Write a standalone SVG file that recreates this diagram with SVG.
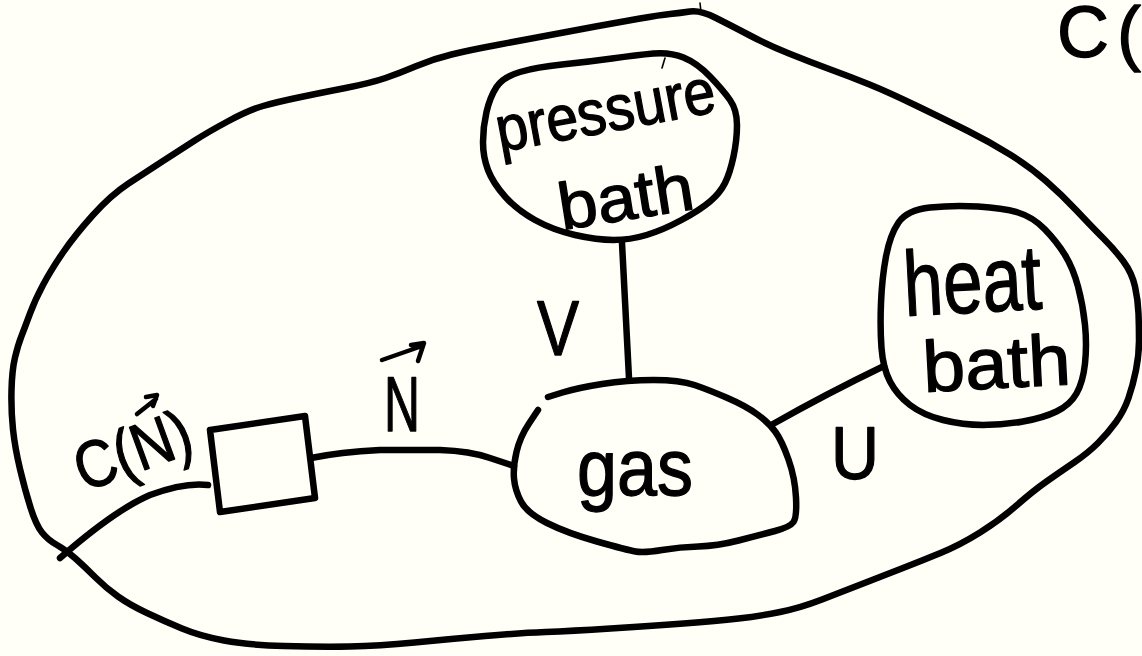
<svg xmlns="http://www.w3.org/2000/svg" width="1142" height="656" viewBox="0 0 1142 656">
  <style>
    .ink { fill: none; stroke: #000; stroke-width: 6.5; stroke-linecap: round; stroke-linejoin: round; }
    .pen { fill: none; stroke: #000; stroke-width: 4.5; stroke-linecap: round; stroke-linejoin: round; }
    .hair { fill: none; stroke: #000; stroke-width: 1.6; stroke-linecap: round; }
    .hand { font-family: "Liberation Sans", Arial, sans-serif; fill: #000; stroke: #000; stroke-width: 1.3; stroke-linejoin: round; }
  </style>
  <rect width="1142" height="656" fill="#fffef7"/>

  <!-- enclosing system boundary -->
  <g id="system">
    <path class="ink" d="M670,14 Q680,13 690,11.5 Q700,10 715,17.5 Q730,25 749,35 Q768,45 789,53.5 Q810,62 830.5,69.5 Q851,77 869.5,84.5 Q888,92 917,106 Q946,120 968,131 Q990,142 1010,154.5 Q1030,167 1046,181 Q1062,195 1077,211 Q1092,227 1103.5,238.5 Q1115,250 1123.5,261.5 Q1132,273 1135,286.5 Q1138,300 1138.5,313.5 Q1139,327 1139,341 Q1139,355 1136,370 Q1133,385 1128.5,398 Q1124,411 1116,422 Q1108,433 1098,443 Q1088,453 1074,462.5 Q1060,472 1046.5,481.5 Q1033,491 1016.5,505.5 Q1000,520 980,532.5 Q960,545 940.5,553 Q921,561 903,568 Q885,575 864.5,583 Q844,591 822,599.5 Q800,608 780,612 Q760,616 738.5,618.5 Q717,621 683.5,623.5 Q650,626 610.5,628.5 Q571,631 545.5,632 Q520,633 485,636 Q450,639 414.5,642.5 Q379,646 349.5,646.5 Q320,647 284,646 Q248,645 224,640.5 Q200,636 182,628.5 Q164,621 147,613 Q130,605 118,596.5 Q106,588 95.5,577.5 Q85,567 75.5,558.5 Q66,550 57,545 Q48,540 42,532.5 Q36,525 30.5,507.5 Q25,490 20,469 Q15,448 13,429.5 Q11,411 11.5,390.5 Q12,370 15,357.5 Q18,345 21.5,336 Q25,327 30,313.5 Q35,300 43,285 Q51,270 63,252.5 Q75,235 93,215 Q111,195 128.5,183.5 Q146,172 163,161 Q180,150 194,141 Q208,132 228.5,121 Q249,110 263,106 Q277,102 298.5,97.5 Q320,93 345.5,88 Q371,83 385.5,78 Q400,73 416.5,66 Q433,59 451.5,54.5 Q470,50 497,45 Q524,40 547.5,35.5 Q571,31 595.5,26.5 Q620,22 640,18.5 Q660,15 670,14 Z"/>
    <line class="hair" x1="700" y1="3" x2="701" y2="12"/>
    <text class="hand" x="1057" y="57" font-size="72" textLength="84" lengthAdjust="spacing">C(</text>
  </g>

  <!-- connectors -->
  <g id="connectors">
    <path class="ink" d="M622,243 Q625,300 629,378"/>
    <path class="ink" d="M773,424 Q826,394 884,366"/>
    <path class="ink" d="M311,458 Q340,452 380,450 L440,450 Q470,451 490,458 L514,466"/>
    <path class="ink" d="M208,485 Q185,482 150,495 Q115,510 60,558"/>
  </g>

  <!-- node: pressure bath -->
  <g id="pressure-bath">
    <path class="ink" d="M496.5,87 Q503,77 520,72 Q537,67 562,64.5 Q587,62 612,58.5 Q637,55 653.5,53.5 Q670,52 683.5,57.5 Q697,63 710,76.5 Q723,90 730,100 Q737,110 737,125 Q737,140 733.5,156.5 Q730,173 725,183 Q720,193 710,201.5 Q700,210 681.5,220 Q663,230 646.5,235 Q630,240 613.5,240 Q597,240 575,235 Q553,230 535,220 Q517,210 505,196.5 Q493,183 488,170 Q483,157 483,142 Q483,127 486.5,112 Q490,97 496.5,87 Z"/>
    <line class="hair" x1="665" y1="58" x2="662" y2="68"/>
    <text class="hand" x="500" y="152" font-size="64" textLength="222" lengthAdjust="spacingAndGlyphs" transform="rotate(-10.5 500 152)">pressure</text>
    <text class="hand" x="562" y="230" font-size="66" textLength="136" lengthAdjust="spacingAndGlyphs" transform="rotate(-9 562 230)">bath</text>
  </g>

  <!-- node: heat bath -->
  <g id="heat-bath">
    <path class="ink" d="M898.5,222.5 Q907,210 930,207.5 Q953,205 978,206.5 Q1003,208 1018,212.5 Q1033,217 1045,229.5 Q1057,242 1065,255 Q1073,268 1078,286.5 Q1083,305 1085,325 Q1087,345 1085,363.5 Q1083,382 1076.5,393.5 Q1070,405 1056.5,411.5 Q1043,418 1023,421.5 Q1003,425 983,425 Q963,425 943,420 Q923,415 910,405 Q897,395 890,381.5 Q883,368 881.5,348 Q880,328 881,303 Q882,278 886,256.5 Q890,235 898.5,222.5 Z"/>
    <text class="hand" x="905" y="316" font-size="92" textLength="138" lengthAdjust="spacingAndGlyphs" transform="rotate(-3 905 316)">heat</text>
    <text class="hand" x="924" y="392" font-size="72" textLength="148" lengthAdjust="spacingAndGlyphs" transform="rotate(-3 924 392)">bath</text>
  </g>

  <!-- node: gas (outline left slightly open at the upper left) -->
  <g id="gas">
    <path class="ink" d="M548,397 L562.5,392.5 Q577,388 602,384 Q627,380 653.5,380 Q680,380 694.5,385 Q709,390 727.5,398 Q746,406 757.5,414.5 Q769,423 775.5,432 Q782,441 788.5,459.5 Q795,478 796,497.5 Q797,517 793.5,522 Q790,527 775,531 Q760,535 738.5,540.5 Q717,546 698.5,546.5 Q680,547 662,550 Q644,553 635.5,551.5 Q627,550 597,541.5 Q567,533 547,523 Q527,513 521,501.5 Q515,490 514,478.5 Q513,467 516.5,452 Q520,437 529,423.5 L538,410"/>
    <text class="hand" x="577" y="495" font-size="80" textLength="116" lengthAdjust="spacingAndGlyphs">gas</text>
  </g>

  <!-- node: constraint box -->
  <g id="constraint">
    <polygon class="ink" points="210,430 305,416 315,498 220,512"/>
  </g>

  <!-- connector labels; vector arrows are pen strokes over the N -->
  <g id="labels">
    <text class="hand" x="537" y="355" font-size="78" textLength="42" lengthAdjust="spacingAndGlyphs">V</text>
    <text class="hand" x="831" y="479" font-size="74" textLength="48" lengthAdjust="spacingAndGlyphs">U</text>
    <text class="hand" x="384" y="431" font-size="78" textLength="36" lengthAdjust="spacingAndGlyphs">N</text>
    <path class="pen" d="M382,360 L422,346 M411,345 L424,343 L418,361"/>
    <g transform="translate(84 492) rotate(-20)">
      <text class="hand" x="0" y="0" font-size="66" textLength="120" lengthAdjust="spacingAndGlyphs">C(N)</text>
    </g>
    <path class="pen" d="M137,414 L156,399 M146,397 L157,395 L153,406"/>
  </g>
</svg>
